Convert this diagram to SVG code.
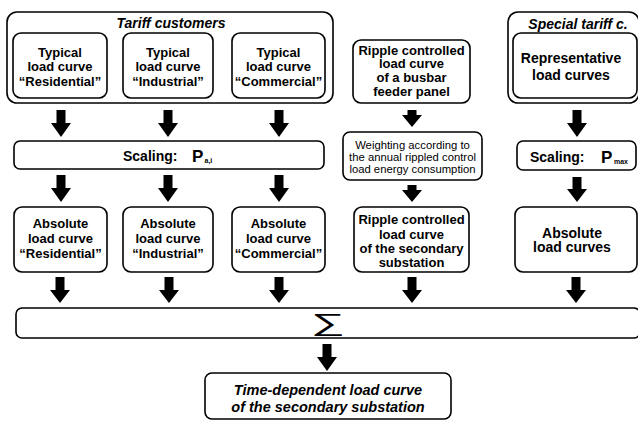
<svg xmlns="http://www.w3.org/2000/svg" width="638" height="421" viewBox="0 0 638 421">
  <style>
    .box { fill: #fff; stroke: #000; stroke-width: 1.6; }
    .t { font-family: "Liberation Sans", Arial, sans-serif; font-weight: bold; font-size: 13px; text-anchor: middle; fill: #000; }
    .t14 { font-size: 14px; }
    .ti { font-family: "Liberation Sans", Arial, sans-serif; font-weight: bold; font-style: italic; font-size: 14px; text-anchor: middle; fill: #000; }
    .tr { font-family: "Liberation Sans", Arial, sans-serif; font-size: 11.3px; text-anchor: middle; fill: #000; }
    .sc { font-family: "Liberation Sans", Arial, sans-serif; font-weight: bold; font-size: 14px; fill: #000; }
    .big { font-size: 17px; }
    .sub { font-size: 7px; }
    .sigma { font-family: "Liberation Sans", sans-serif; font-size: 25px; text-anchor: middle; fill: #000; }
    .arrow { fill: #000; stroke: none; }
  </style>
  <rect width="638" height="421" fill="#fff"/>

  <!-- tariff customers group -->
  <g id="tariff-customers">
    <rect class="box" x="7" y="12" width="326" height="91" rx="10"/>
    <text class="ti" x="171" y="28">Tariff customers</text>
  </g>
  <g id="typical-residential">
    <rect class="box" x="13" y="33" width="94" height="65" rx="8"/>
    <text class="t" x="60" y="56.5">Typical</text>
    <text class="t" x="60" y="71">load curve</text>
    <text class="t" x="60" y="85.5">“Residential”</text>
  </g>
  <g id="typical-industrial">
    <rect class="box" x="123" y="33" width="90" height="65" rx="8"/>
    <text class="t" x="168" y="56.5">Typical</text>
    <text class="t" x="168" y="71">load curve</text>
    <text class="t" x="168" y="85.5">“Industrial”</text>
  </g>
  <g id="typical-commercial">
    <rect class="box" x="232" y="33" width="93" height="65" rx="8"/>
    <text class="t" x="278.5" y="56.5">Typical</text>
    <text class="t" x="278.5" y="71">load curve</text>
    <text class="t" x="278.5" y="85.5">“Commercial”</text>
  </g>

  <!-- ripple control column -->
  <g id="ripple-feeder">
    <rect class="box" x="353" y="40" width="117" height="63" rx="8"/>
    <text class="t" x="411.5" y="54.5">Ripple controlled</text>
    <text class="t" x="411.5" y="68">load curve</text>
    <text class="t" x="411.5" y="82">of a busbar</text>
    <text class="t" x="411.5" y="96">feeder panel</text>
  </g>

  <!-- special tariff customers -->
  <g id="special-tariff">
    <rect class="box" x="508" y="12" width="131" height="91" rx="10"/>
    <text class="ti" x="578" y="29">Special tariff c.</text>
  </g>
  <g id="representative">
    <rect class="box" x="513" y="33" width="124" height="65" rx="8"/>
    <text class="t t14" x="571" y="63">Representative</text>
    <text class="t t14" x="571" y="79.5">load curves</text>
  </g>

  <!-- scaling row -->
  <g id="scaling-pai">
    <rect class="box" x="14" y="141" width="310" height="28" rx="6"/>
    <text class="sc" x="123" y="161">Scaling:</text>
    <text class="sc big" x="192" y="162">P</text>
    <text class="sc sub" x="204.5" y="163">a,i</text>
  </g>
  <g id="weighting">
    <rect class="box" x="343" y="132" width="139" height="48" rx="7"/>
    <text class="tr" x="412.5" y="149">Weighting according to</text>
    <text class="tr" x="412.5" y="161">the annual rippled control</text>
    <text class="tr" x="412.5" y="173">load energy consumption</text>
  </g>
  <g id="scaling-pmax">
    <rect class="box" x="517" y="141" width="119" height="29" rx="6"/>
    <text class="sc" x="530" y="162">Scaling:</text>
    <text class="sc big" x="601" y="163">P</text>
    <text class="sc sub" x="614" y="164">max</text>
  </g>

  <!-- absolute load curves row -->
  <g id="absolute-residential">
    <rect class="box" x="14" y="207" width="93" height="65" rx="8"/>
    <text class="t" x="60.5" y="227.5">Absolute</text>
    <text class="t" x="60.5" y="242.5">load curve</text>
    <text class="t" x="60.5" y="257.5">“Residential”</text>
  </g>
  <g id="absolute-industrial">
    <rect class="box" x="123" y="207" width="90" height="65" rx="8"/>
    <text class="t" x="168" y="227.5">Absolute</text>
    <text class="t" x="168" y="242.5">load curve</text>
    <text class="t" x="168" y="257.5">“Industrial”</text>
  </g>
  <g id="absolute-commercial">
    <rect class="box" x="232" y="207" width="93" height="65" rx="8"/>
    <text class="t" x="278.5" y="227.5">Absolute</text>
    <text class="t" x="278.5" y="242.5">load curve</text>
    <text class="t" x="278.5" y="257.5">“Commercial”</text>
  </g>
  <g id="ripple-substation">
    <rect class="box" x="354" y="207" width="115" height="65" rx="8"/>
    <text class="t" x="411.5" y="224">Ripple controlled</text>
    <text class="t" x="411.5" y="238.5">load curve</text>
    <text class="t" x="411.5" y="252.5">of the secondary</text>
    <text class="t" x="411.5" y="266.5">substation</text>
  </g>
  <g id="absolute-special">
    <rect class="box" x="515" y="207" width="122" height="65" rx="8"/>
    <text class="t t14" x="572" y="237.5">Absolute</text>
    <text class="t t14" x="572" y="252">load curves</text>
  </g>

  <!-- summation: the sigma is stretched horizontally -->
  <g id="sum">
    <rect class="box" x="16" y="308" width="624" height="30" rx="6"/>
    <text class="sigma" transform="translate(328,331) scale(1.9,1)" x="0" y="0">∑</text>
  </g>

  <!-- result -->
  <g id="result">
    <rect class="box" x="205" y="373" width="246" height="46" rx="7"/>
    <text class="ti" x="328" y="395" style="font-size:14.5px">Time-dependent load curve</text>
    <text class="ti" x="328" y="412" style="font-size:14.5px">of the secondary substation</text>
  </g>

  <!-- connectors: block arrows -->
  <g id="connectors">
    <path class="arrow" d="M56.5,110 H65.5 V123 H71 L61,137 L51,123 H56.5 Z"/>
    <path class="arrow" d="M163.5,110 H172.5 V123 H178 L168,137 L158,123 H163.5 Z"/>
    <path class="arrow" d="M274.5,110 H283.5 V123 H289 L279,137 L269,123 H274.5 Z"/>
    <path class="arrow" d="M407.5,110 H416.5 V115 H422 L412,127 L402,115 H407.5 Z"/>
    <path class="arrow" d="M572.5,110 H581.5 V123 H587 L577,137 L567,123 H572.5 Z"/>

    <path class="arrow" d="M56.5,175 H65.5 V188 H71 L61,202 L51,188 H56.5 Z"/>
    <path class="arrow" d="M163.5,175 H172.5 V188 H178 L168,202 L158,188 H163.5 Z"/>
    <path class="arrow" d="M274.5,175 H283.5 V188 H289 L279,202 L269,188 H274.5 Z"/>
    <path class="arrow" d="M407.5,185 H416.5 V190 H422 L412,202 L402,190 H407.5 Z"/>
    <path class="arrow" d="M572.5,177 H581.5 V189 H587 L577,202 L567,189 H572.5 Z"/>

    <path class="arrow" d="M55.5,277 H64.5 V290 H70 L60,303 L50,290 H55.5 Z"/>
    <path class="arrow" d="M164.5,277 H173.5 V290 H179 L169,303 L159,290 H164.5 Z"/>
    <path class="arrow" d="M274.5,277 H283.5 V290 H289 L279,303 L269,290 H274.5 Z"/>
    <path class="arrow" d="M407.5,277 H416.5 V290 H422 L412,303 L402,290 H407.5 Z"/>
    <path class="arrow" d="M571.5,277 H580.5 V290 H586 L576,303 L566,290 H571.5 Z"/>

    <path class="arrow" d="M322.5,344 H331.5 V357 H337 L327,371 L317,357 H322.5 Z"/>
  </g>
</svg>
